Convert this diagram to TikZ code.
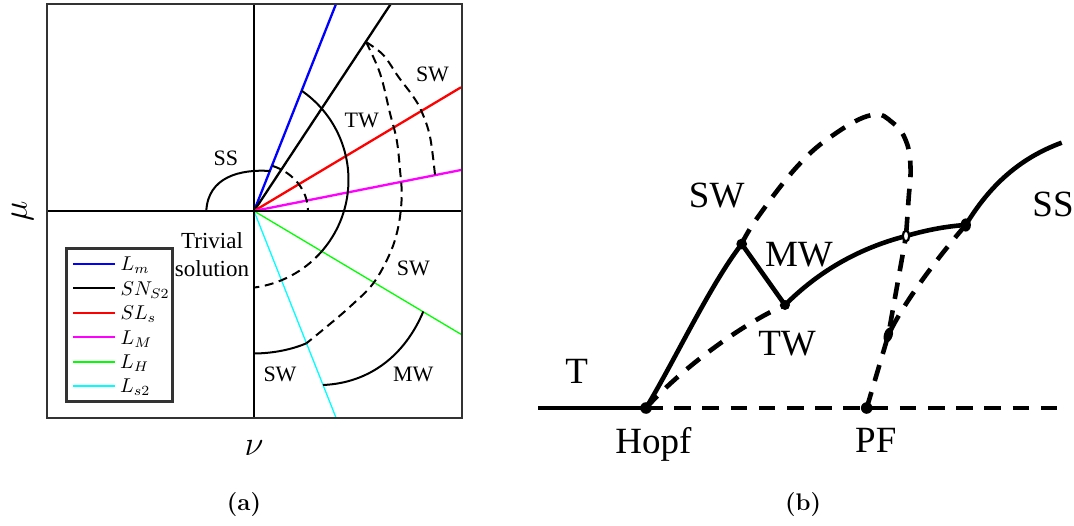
\documentclass[tikz,border=0pt]{standalone}
\usepackage{fontspec}
\newfontfamily\timesfont{Liberation Serif}
\usepackage{xcolor}
\usepackage{tikz}
\usetikzlibrary{positioning, calc}
\definecolor{lmcol}{RGB}{0,0,255}
\definecolor{slcol}{RGB}{255,0,0}
\definecolor{mmcol}{RGB}{255,0,255}
\definecolor{lhcol}{RGB}{0,255,0}
\definecolor{lscol}{RGB}{0,255,255}

\begin{document}
\begin{tikzpicture}[
    x=0.5pt, y=0.5pt,
    frame/.style={draw=black!80, line width=1.4pt},
    axis/.style={draw=black, line width=1.45pt},
    ray/.style={line width=1.15pt},
    thinray/.style={line width=0.65pt},
    branch/.style={line width=1pt},
    dashbranch/.style={line width=1pt, dash pattern=on 4.5pt off 2.8pt},
    lbl/.style={font=\timesfont\fontsize{11}{13}\selectfont, inner sep=0pt, anchor=base},
    blbl/.style={font=\timesfont\fontsize{18.5}{22}\selectfont, inner sep=0pt, anchor=base},
    leg/.style={font=\fontsize{9.75}{11}\selectfont, inner sep=0pt, anchor=base west},
    curve/.style={line width=2.3pt},
    dcurve/.style={line width=2.3pt, dash pattern=on 8.3pt off 5.8pt},
    captxt/.style={font=\fontsize{12}{14}\selectfont\bfseries, inner sep=0pt}
]
\useasboundingbox (0,0) rectangle (1074,525);

% (a) parameter plane
\coordinate (O) at (254,314);
\draw[ray, lmcol] (O) -- (336,521);
\draw[ray, black] (O) -- (390.7,521);
\draw[ray, slcol] (O) -- (461,437.7);
\draw[ray, mmcol] (O) -- (461,355);
\draw[thinray, lhcol] (O) -- (461,190.7);
\draw[thinray, lscol] (O) -- (336,107.3);

\draw[branch] (206.3,314) .. controls (208,348) and (240,356) .. (270,354);
\draw[dashbranch] (O) ++(70:54 and 48) arc[start angle=70, end angle=0, x radius=54, y radius=48];

\coordinate (Ctw) at (240,345);
\draw[branch] (Ctw) ++(55.4:108.5) arc[start angle=55.4, end angle=-41.2, radius=108.5];
\draw[dashbranch] (Ctw) ++(-41.2:108.5) arc[start angle=-41.2, end angle=-82.6, radius=108.5];

\coordinate (Ksn) at (366,483);
\coordinate (Kcy) at (306.4,181.7);
\draw[dashbranch] plot[smooth, tension=0.6] coordinates {(Ksn) (380,451.7) (390,411.7) (396.7,385) (400,355) (401.7,328.3) (398.3,298.3) (390,271.7) (373.3,241.7) (350,218.3) (326.7,198.3) (Kcy)};
\draw[branch] (Kcy) .. controls (293,176) and (275,171.7) .. (254,171.5);
\draw[dashbranch] plot[smooth, tension=0.6] coordinates {(Ksn) (383.3,470) (398.3,448.3) (413.3,428.3) (421.7,413.3) (430,388.3) (435,350)};
\draw[branch] (423.3,213.5) .. controls (405,170) and (370,142) .. (323,140);

\draw[axis] (47,314) -- (462,314);
\draw[axis] (254,107) -- (254,521);
\draw[frame] (47,107) rectangle (462,521);

\node[lbl] (swtop) at (432.5,443.3) {SW};
\node[lbl] (twa) at (361.7,397.7) {TW};
\node[lbl] (ssa) at (225.8,359.3) {SS};
\node[lbl, font=\timesfont\fontsize{11.5}{13}\selectfont] (triv) at (212,276.7) {Trivial};
\node[lbl, font=\timesfont\fontsize{11.5}{13}\selectfont] (sol) at (212,248.3) {solution};
\node[lbl] (swmid) at (413.3,249.3) {SW};
\node[lbl] (swlow) at (280,143.3) {SW};
\node[lbl] (mwa) at (413.3,143.3) {MW};

\draw[draw=black!80, line width=1.4pt, fill=white] (66.7,123.3) rectangle (172.7,276.7);
\foreach \y/\c/\w/\t in {261/lmcol/1.15pt/{$L_m$}, 236.7/black/1.15pt/{$SN_{S2}$}, 212.3/slcol/1.15pt/{$SL_s$}, 187.7/mmcol/1.15pt/{$L_M$}, 163/lhcol/0.65pt/{$L_H$}, 139/lscol/0.65pt/{$L_{s2}$}}
  \draw[\c, line width=\w] (73.3,\y) -- (115,\y) node[leg, black] at (119.5,\y-6.7) {\t};

\node[font=\fontsize{17}{20}\selectfont, inner sep=0pt] (nu) at (254,77.3) {$\nu$};
\node[font=\fontsize{17}{20}\selectfont, inner sep=0pt, rotate=90] (mu) at (22.5,314) {$\mu$};
\node[captxt] (capa) at (244,20) {(a)};

% (b) bifurcation sketch
\coordinate (tstart) at (538.3,117);
\coordinate (hopf) at (646,117);
\coordinate (pf) at (866.7,117);
\coordinate (tend) at (1065,117);
\coordinate (mwpt) at (741.7,281);
\coordinate (twpt) at (785,220);
\coordinate (cross) at (906,289);
\coordinate (sspt) at (965.7,300);
\coordinate (ssend) at (1061.7,382.3);
\coordinate (pfmid) at (888.3,190);

\draw[dcurve] (hopf) -- (tend);
\draw[dcurve] (hopf) .. controls (680,155) and (740,200) .. (twpt);
\draw[dcurve] (pf) -- (pfmid) -- (cross);
\draw[dcurve] plot[smooth, tension=0.7] coordinates {(mwpt) (757,306.7) (797,358.3) (833.3,390) (871.7,410) (893,402) (906,384) (910.5,358) (908.5,325) (cross)};
\draw[dcurve] (sspt) .. controls (940,270) and (905,225) .. (pfmid);

\draw[curve] (tstart) -- (hopf);
\draw[curve] (hopf) .. controls (675,165) and (710,240) .. (mwpt);
\draw[curve] (mwpt) -- (twpt);
\draw[curve] (twpt) .. controls (820,255) and (860,277) .. (cross);
\draw[curve] (cross) .. controls (930,296) and (950,299) .. (sspt);
\draw[curve] (sspt) .. controls (990,340) and (1020,367) .. (ssend);

\fill (hopf) circle[radius=2.9pt];
\fill (pf) circle[radius=2.9pt];
\fill (mwpt) circle[radius=2.7pt];
\fill (twpt) circle[radius=2.5pt];
\fill (sspt) ellipse[x radius=2.6pt, y radius=3.3pt];
\fill (pfmid) ellipse[x radius=2.2pt, y radius=3.8pt, rotate=-17];
\filldraw[fill=white, draw=black, line width=1.1pt] (cross) ellipse[x radius=1.6pt, y radius=2.7pt];

\node[blbl] (tlbl) at (576.7,141.7) {T};
\node[blbl] (hopflbl) at (653.3,71.7) {Hopf};
\node[blbl] (pflbl) at (875.8,72.5) {PF};
\node[blbl] (swlbl) at (716.7,317.7) {SW};
\node[blbl] (mwlbl) at (799,258.3) {MW};
\node[blbl] (twlbl) at (787,170) {TW};
\node[blbl] (sslbl) at (1053,308.3) {SS};
\node[captxt] (capb) at (803,20) {(b)};

\end{tikzpicture}
\end{document}
